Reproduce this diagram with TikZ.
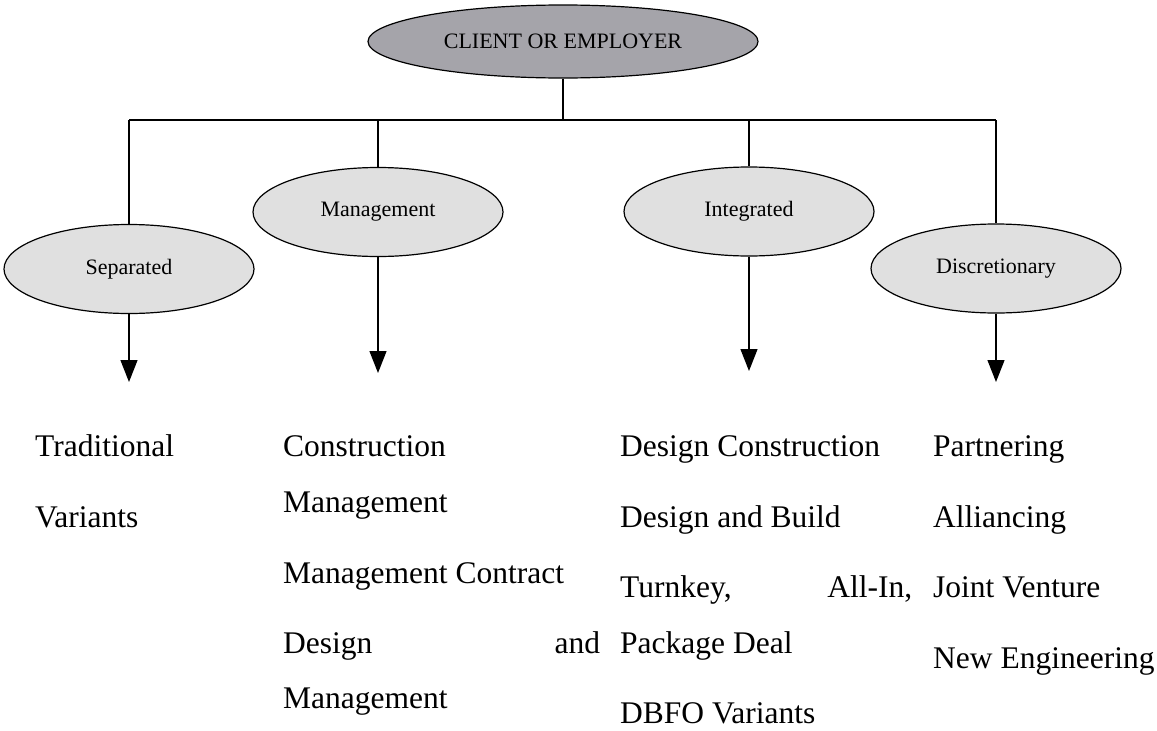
\documentclass[tikz,border=0pt]{standalone}
\usepackage{fontspec}
\setmainfont{Liberation Serif}
\usetikzlibrary{shapes.geometric,arrows.meta}

\definecolor{rootgray}{RGB}{165,164,170}
\definecolor{typegray}{RGB}{224,224,224}

\begin{document}
\begin{tikzpicture}[
  x=1pt, y=-1pt,
  root/.style={ellipse, draw, line width=1.2pt, fill=rootgray, inner sep=0pt,
    minimum width=390pt, minimum height=73pt, font=\fontsize{22}{26}\selectfont},
  kind/.style={ellipse, draw, line width=1.2pt, fill=typegray, inner sep=0pt,
    minimum width=250pt, minimum height=89pt, font=\fontsize{22}{26}\selectfont},
  item/.style={anchor=base west, inner sep=0pt, font=\fontsize{31.5}{36}\selectfont},
  link/.style={line width=1.3pt},
  feed/.style={line width=1.3pt, -{Triangle[width=17pt,length=22pt]}}
]
\useasboundingbox (0,0) rectangle (1157,731);

% client and the four groups
\node[root] (client) at (563,41.5) {CLIENT OR EMPLOYER};
\node[kind] (sep) at (129,269) {Separated};
\node[kind] (man) at (378,212) {Management};
\node[kind] (int) at (749,211.5) {Integrated};
\node[kind] (dis) at (996,268.5) {Discretionary};

% the bus
\coordinate (hub) at (563,120);
\coordinate (busL) at (129,120);
\coordinate (busR) at (996,120);
\draw[link] (client.south) -- (hub);
\draw[link] (busL) -- (busR);
\draw[link] (busL) -- (sep.north);
\draw[link] (man.north |- hub) -- (man.north);
\draw[link] (int.north |- hub) -- (int.north);
\draw[link] (busR) -- (dis.north);

% arrows down to the lists
\coordinate (sepTip) at (129,382);
\coordinate (manTip) at (378,373);
\coordinate (intTip) at (749,371);
\coordinate (disTip) at (996,382);
\draw[feed] (sep.south) -- (sepTip);
\draw[feed] (man.south) -- (manTip);
\draw[feed] (int.south) -- (intTip);
\draw[feed] (dis.south) -- (disTip);

% separated
\node[item] (trad) at (35,456) {Traditional};
\node[item] (var) at (35,527) {Variants};

% management
\node[item] (cm1) at (283,456) {Construction};
\node[item] (cm2) at (283,512) {Management};
\node[item] (mc) at (283,583) {Management Contract};
\node[item] (dm1) at (283,653) {\makebox[317pt][s]{Design and}};
\node[item] (dm2) at (283,708) {Management};

% integrated
\node[item] (dc) at (620,456) {Design Construction};
\node[item] (db) at (620,527) {Design and Build};
\node[item] (tk1) at (620,597) {\makebox[292pt][s]{Turnkey, All-In,}};
\node[item] (tk2) at (620,653) {Package Deal};
\node[item] (dbfo) at (620,723) {DBFO Variants};

% discretionary
\node[item] (part) at (933,456) {Partnering};
\node[item] (all) at (933,527) {Alliancing};
\node[item] (jv) at (933,597) {Joint Venture};
\node[item] (ne) at (933,668) {New Engineering};
\end{tikzpicture}
\end{document}
